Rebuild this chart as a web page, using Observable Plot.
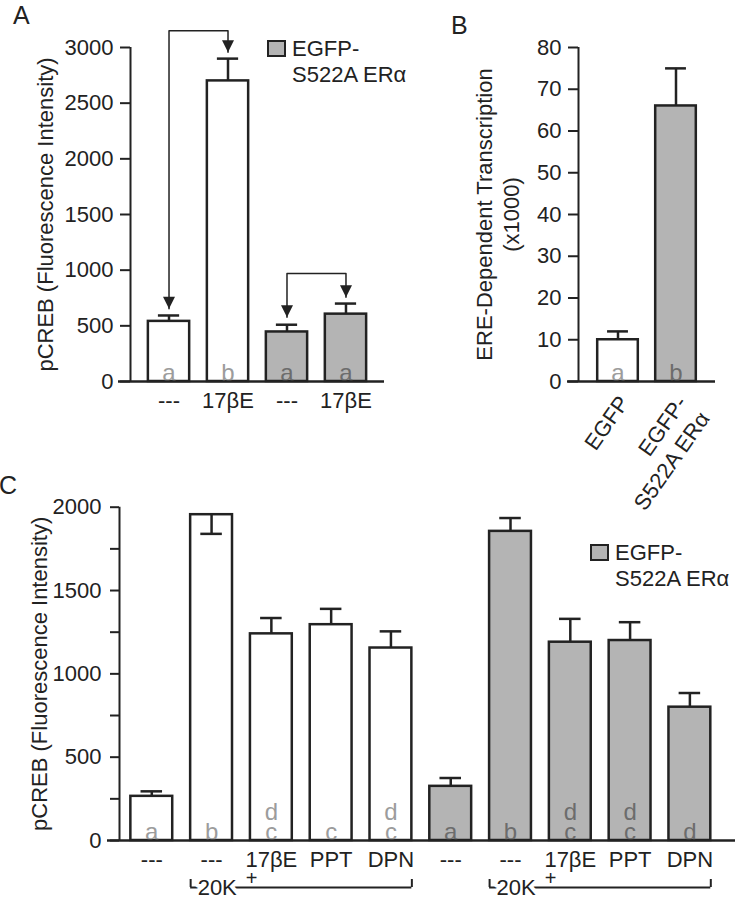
<!DOCTYPE html>
<html><head><meta charset="utf-8">
<script src="https://cdn.jsdelivr.net/npm/d3@7"></script>
<script src="https://cdn.jsdelivr.net/npm/@observablehq/plot@0.6"></script>
<style>
body{margin:0;background:#fff;}
#fig{position:relative;width:735px;height:899px;font-family:"Liberation Sans",Arial,Helvetica,sans-serif;color:#222;overflow:hidden;}
.pl{position:absolute;}
.letter{position:absolute;font-size:25px;line-height:1;}
.leg{position:absolute;font-size:22px;line-height:26px;white-space:nowrap;}
.box{position:absolute;width:19px;height:17px;background:#b4b4b4;border:2px solid #222;box-sizing:border-box}
</style></head><body><div id="fig"></div>
<script>
// ---------- data ----------
const aCategories = ["---", "17βE", "---", "17βE"];
const aGroups = ["EGFP", "EGFP", "S522A", "S522A"];
const aValues = [540, 2700, 445, 605];
const aErrors = [593, 2900, 510, 700];
const aLetters = ["a", "b", "a", "a"];
const aTicks = [0, 500, 1000, 1500, 2000, 2500, 3000];
const aArrows = [
  {from: 0, to: 1, top: 3150, fromTip: 653, toTip: 2958},
  {from: 2, to: 3, top: 970, fromTip: 577, toTip: 757}
];

const bCategories = ["EGFP", "EGFP-\nS522A ERα"];
const bGroups = ["EGFP", "S522A"];
const bValues = [10, 66];
const bErrors = [12, 75];
const bLetters = ["a", "b"];
const bTicks = [0, 10, 20, 30, 40, 50, 60, 70, 80];

const cCategories = ["---", "---", "17βE", "PPT", "DPN", "---", "---", "17βE", "PPT", "DPN"];
const cGroups = ["EGFP", "EGFP", "EGFP", "EGFP", "EGFP", "S522A", "S522A", "S522A", "S522A", "S522A"];
const cValues = [265, 1955, 1240, 1295, 1155, 325, 1855, 1190, 1200, 800];
const cErrors = [295, 1840, 1335, 1390, 1255, 375, 1935, 1330, 1310, 885];
const cLetters = ["a", "b", "d\nc", "c", "d\nc", "a", "b", "d\nc", "d\nc", "d"];
const cTicks = [0, 250, 500, 750, 1000, 1250, 1500, 1750, 2000];
const cTickLabels = [0, 500, 1000, 1500, 2000];
const cBrackets = [{from: 1, to: 4, label: "20K", sup: "+"}, {from: 6, to: 9, label: "20K", sup: "+"}];

const yLabelA = "pCREB (Fluorescence Intensity)";
const yLabelB = "ERE-Dependent Transcription\n(x1000)";
const yLabelC = "pCREB (Fluorescence Intensity)";
const legendLines = ["EGFP-", "S522A ERα"];

// ---------- style ----------
const ink = "#222";
const fills = {EGFP: "#ffffff", S522A: "#b4b4b4"};
const letterFills = {EGFP: "#9c9c9c", S522A: "#6c6c6c"};
const half = 0.35, cap = 0.18;
const FS = 22;
const font = '"Liberation Sans", Arial, Helvetica, sans-serif';
const downTriangle = {draw(ctx) { ctx.moveTo(0, 0); ctx.lineTo(-6, -12); ctx.lineTo(6, -12); ctx.closePath(); }};

function rows(cats, groups, vals, errs, lets) {
  return cats.map((c, i) => ({i, cat: c, g: groups[i], v: vals[i], e: errs[i], l: lets[i]}));
}

function barMarks(data) {
  return [
    Plot.rect(data, {x1: d => d.i - half, x2: d => d.i + half, y1: 0, y2: "v", fill: d => fills[d.g], stroke: ink, strokeWidth: 2.5}),
    Plot.ruleX(data, {x: "i", y1: "v", y2: "e", stroke: ink, strokeWidth: 2.5}),
    Plot.ruleY(data, {y: "e", x1: d => d.i - cap, x2: d => d.i + cap, stroke: ink, strokeWidth: 2.5}),
    Plot.text(data, {x: "i", y: 0, text: "l", fill: d => letterFills[d.g], lineAnchor: "bottom", dy: -1, fontSize: 24, lineHeight: 0.8})
  ];
}

const fig = document.getElementById("fig");
function place(el, left, top) {
  el.classList.add("pl");
  el.style.left = left + "px";
  el.style.top = top + "px";
  fig.appendChild(el);
}
const baseStyle = `background:none;font-size:${FS}px;font-family:${font};color:${ink};overflow:visible;`;

// ---------- panel A ----------
const aRows = rows(aCategories, aGroups, aValues, aErrors, aLetters);
const aX = [-0.653, 3.653];
const arrowPts = aArrows.flatMap((a, k) => [
  {k, x: a.from, y: a.fromTip}, {k, x: a.from, y: a.top}, {k, x: a.to, y: a.top}, {k, x: a.to, y: a.toTip}
]);
const arrowTips = aArrows.flatMap(a => [{x: a.from, y: a.fromTip}, {x: a.to, y: a.toTip}]);
const plotA = Plot.plot({
  width: 390, height: 420,
  marginLeft: 130, marginRight: 6, marginTop: 47, marginBottom: 39,
  style: baseStyle,
  x: {domain: aX, axis: null},
  y: {domain: [0, 3000], label: null, axis: null},
  color: {type: "identity"},
  marks: [
    ...barMarks(aRows),
    Plot.ruleY([0], {stroke: ink, strokeWidth: 2.5, insetLeft: -12}),
    Plot.ruleX([aX[0]], {y1: 0, y2: 3000, stroke: ink, strokeWidth: 2}),
    Plot.axisY({ticks: aTicks, tickFormat: d => String(d), tickSize: 10, tickPadding: 7, strokeWidth: 2, fontSize: FS, label: null}),
    Plot.axisX({ticks: d3.range(aCategories.length), tickFormat: i => aCategories[i], tickSize: 0, tickPadding: 11, fontSize: FS, label: null}),
    Plot.line(arrowPts, {x: "x", y: "y", z: "k", stroke: ink, strokeWidth: 1.5}),
    Plot.dot(arrowTips, {x: "x", y: "y", symbol: downTriangle, fill: ink, stroke: null, r: 5}),
    Plot.text([yLabelA], {text: d => d, frameAnchor: "left", textAnchor: "middle", rotate: -90, dx: -85, lineAnchor: "middle", fontSize: FS})
  ]
});
place(plotA, 0, 0);

// ---------- panel B ----------
const bRows = rows(bCategories, bGroups, bValues, bErrors, bLetters);
const bX = [-0.681, 1.681];
const plotB = Plot.plot({
  width: 365, height: 420,
  marginLeft: 208, marginRight: 20, marginTop: 47, marginBottom: 39,
  style: baseStyle,
  x: {domain: bX, axis: null},
  y: {domain: [0, 80], label: null, axis: null},
  color: {type: "identity"},
  marks: [
    ...barMarks(bRows),
    Plot.ruleY([0], {stroke: ink, strokeWidth: 2.5, insetLeft: -11}),
    Plot.ruleX([bX[0]], {y1: 0, y2: 80, stroke: ink, strokeWidth: 2}),
    Plot.axisY({ticks: bTicks, tickFormat: d => String(d), tickSize: 10, tickPadding: 7, strokeWidth: 2, fontSize: FS, label: null}),
    Plot.text(bRows, {x: "i", y: 0, text: "cat", rotate: -55, textAnchor: "end", lineAnchor: "top", dx: -4, dy: 10, lineHeight: 1.25, fontSize: FS}),
    Plot.text([yLabelB], {text: d => d, frameAnchor: "left", textAnchor: "middle", rotate: -90, dx: -82, lineAnchor: "middle", lineHeight: 1.25, fontSize: FS})
  ]
});
place(plotB, 370, 0);

// ---------- panel C ----------
const cRows = rows(cCategories, cGroups, cValues, cErrors, cLetters);
const cX = [-0.54, 9.763];
const bracketEnds = cBrackets.flatMap(b => [b.from - half, b.to + half]);
const plotC = Plot.plot({
  width: 735, height: 479,
  marginLeft: 119, marginRight: 0, marginTop: 86.7, marginBottom: 59,
  style: baseStyle,
  x: {domain: cX, axis: null},
  y: {domain: [0, 2000], label: null, axis: null},
  color: {type: "identity"},
  marks: [
    ...barMarks(cRows),
    Plot.ruleY([0], {stroke: ink, strokeWidth: 2.5, insetLeft: -12}),
    Plot.ruleX([cX[0]], {y1: 0, y2: 2000, stroke: ink, strokeWidth: 2}),
    Plot.axisY({ticks: cTicks, tickFormat: d => cTickLabels.includes(d) ? String(d) : "", tickSize: 9, tickPadding: 9, strokeWidth: 2, fontSize: FS, label: null}),
    Plot.axisX({ticks: d3.range(cCategories.length), tickFormat: i => cCategories[i], tickSize: 0, tickPadding: 11, fontSize: FS, label: null}),
    Plot.ruleY(cBrackets, {x1: d => d.from - half, x2: d => d.to + half, y: 0, dy: 47, stroke: ink, strokeWidth: 2}),
    Plot.ruleX(bracketEnds, {x: d => d, y1: 0, y2: 0, insetTop: -8, dy: 47, stroke: ink, strokeWidth: 2}),
    Plot.text(cBrackets, {x: d => d.from - half, y: 0, text: "label", textAnchor: "start", lineAnchor: "middle", dx: 7, dy: 47, fontSize: FS, fill: ink, stroke: "white", strokeWidth: 8, paintOrder: "stroke"}),
    Plot.text(cBrackets, {x: d => d.from - half, y: 0, text: "sup", textAnchor: "middle", lineAnchor: "middle", dx: 61, dy: 38, fontSize: 20, fill: ink}),
    Plot.text([yLabelC], {text: d => d, frameAnchor: "left", textAnchor: "middle", rotate: -90, dx: -80, lineAnchor: "middle", fontSize: FS})
  ]
});
place(plotC, 0, 420);

// ---------- panel letters & legends ----------
function addDiv(cls, text, left, top) {
  const d = document.createElement("div");
  d.className = cls; d.textContent = text;
  d.style.left = left + "px"; d.style.top = top + "px";
  fig.appendChild(d); return d;
}
addDiv("letter", "A", 13, 3);
addDiv("letter", "B", 451, 13);
addDiv("letter", "C", -1, 473);
function legend(left, top) {
  addDiv("box", "", left, top + 4);
  const t = addDiv("leg", "", left + 25, top);
  t.innerHTML = legendLines.join("<br>");
}
legend(267, 36);
legend(590, 540);
</script></body></html>
